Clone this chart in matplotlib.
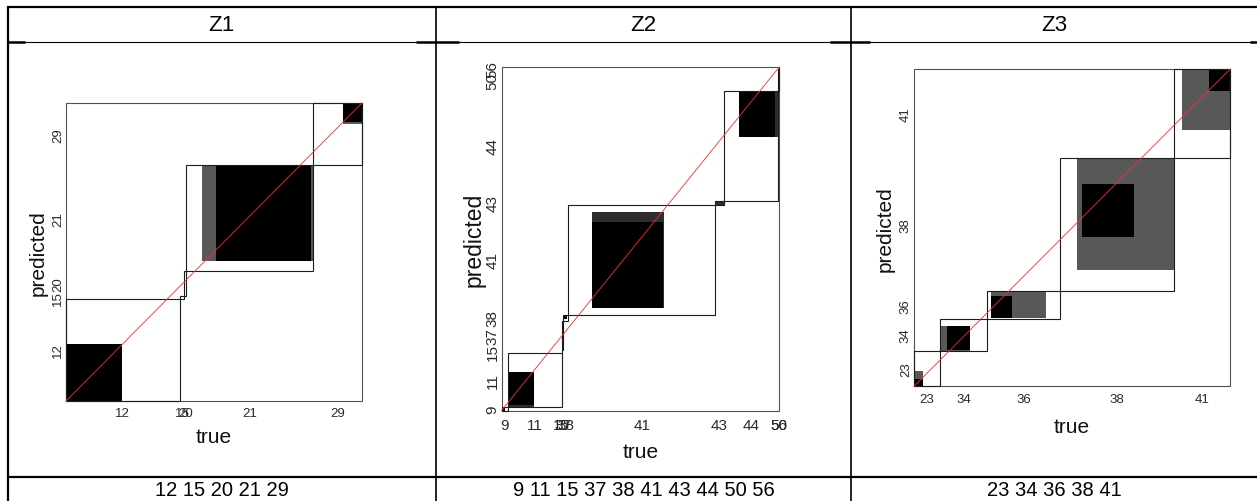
import matplotlib
matplotlib.use("Agg")
import matplotlib.pyplot as plt
from matplotlib.patches import Rectangle
from matplotlib.lines import Line2D
import numpy as np

plt.rcParams["font.family"] = ["Liberation Sans", "DejaVu Sans"]

# ---- data: class labels, share of true (column width) and predicted (row height) ----
z1_classes = ["12", "15", "20", "21", "29"]
z1_true_share = [0.384, 0.016, 0.007, 0.428, 0.165]
z1_pred_share = [0.343, 0.009, 0.084, 0.355, 0.209]
# inner blocks per diagonal cell, as fractions of the cell: (x0, x1, y0, y1)
z1_gray = {"21": (0.126, 1.0, 0.091, 1.0), "29": (0.612, 1.0, 0.663, 1.0)}
z1_dark = {}
z1_black = {"12": (0.0, 0.493, 0.0, 0.559),
            "21": (0.237, 0.982, 0.091, 1.0),
            "29": (0.612, 1.0, 0.695, 1.0)}

z2_classes = ["9", "11", "15", "37", "38", "41", "43", "44", "50", "56"]
z2_true_share = [0.022, 0.195, 0.001, 0.003, 0.020, 0.528, 0.031, 0.198, 0.001, 0.001]
z2_pred_share = [0.010, 0.157, 0.011, 0.084, 0.018, 0.320, 0.012, 0.318, 0.064, 0.006]
z2_gray = {}
z2_dark = {"11": (0.0, 0.497, 0.0, 0.654),
           "41": (0.161, 0.650, 0.061, 0.930),
           "43": (0.0, 1.0, 0.0, 1.0),
           "44": (0.279, 1.0, 0.579, 1.0)}
z2_black = {"9": (0.0, 0.61, 0.0, 1.0),
            "11": (0.0, 0.497, 0.049, 0.654),
            "38": (0.18, 0.82, 0.33, 0.89),
            "41": (0.161, 0.643, 0.061, 0.845),
            "44": (0.279, 0.933, 0.579, 1.0)}

z3_classes = ["23", "34", "36", "38", "41"]
z3_true_share = [0.082, 0.150, 0.230, 0.361, 0.177]
z3_pred_share = [0.112, 0.099, 0.089, 0.420, 0.280]
z3_gray = {"23": (0.0, 0.333, 0.0, 0.420),
           "34": (0.0, 0.627, 0.0, 0.787),
           "36": (0.046, 0.807, 0.059, 0.976),
           "38": (0.152, 1.0, 0.155, 1.0),
           "41": (0.143, 1.0, 0.315, 1.0)}
z3_dark = {}
z3_black = {"23": (0.0, 0.333, 0.0, 0.206),
            "34": (0.141, 0.627, 0.032, 0.787),
            "36": (0.046, 0.335, 0.059, 0.812),
            "38": (0.19, 0.65, 0.409, 0.80),
            "41": (0.619, 1.0, 0.757, 1.0)}

titles = ["Z1", "Z2", "Z3"]

# ---- figure / layout helpers (pixel coordinates, origin top-left) ----
W, H = 1257, 502
fig = plt.figure(figsize=(W / 100, H / 100), dpi=100)
fig.patch.set_facecolor("white")


def fx(x):
    return x / W


def fy(y):
    return 1 - y / H


def seg(x0, y0, x1, y1, lw, color="black"):
    fig.add_artist(Line2D([fx(x0), fx(x1)], [fy(y0), fy(y1)], lw=lw,
                          color=color, solid_capstyle="butt"))


# table grid
seg(7, 7.5, W, 7.5, 1.6)
seg(7.5, 7, 7.5, H, 1.6)
seg(7, 42.5, W, 42.5, 0.8)
seg(7, 477.5, W, 477.5, 1.6)
seg(436, 7, 436, H, 1.2)
seg(851, 7, 851, H, 1.2)
for a, b in [(7, 25), (416, 459), (830, 870), (1250, W)]:
    seg(a, 43, b, 43, 1.8)

col_centers = [221.5, 643.5, 1054]


def draw_panel(box, classes, tw, ph, gray, dark, black, tick_fs, xpad, ypad,
               xlab_dy, ylab_dx, ylab_fs):
    l, t, r, b = box
    ax = fig.add_axes([fx(l), fy(b), fx(r) - fx(l), fy(t) - fy(b)])
    ax.set_xlim(0, 1)
    ax.set_ylim(0, 1)
    ax.set_facecolor("none")
    for s in ax.spines.values():
        s.set_visible(False)

    cx = np.concatenate([[0.0], np.cumsum(tw)])
    cy = np.concatenate([[0.0], np.cumsum(ph)])

    for color, table in (("#585858", gray), ("#2e2e2e", dark), ("#000000", black)):
        for cls, (a0, a1, b0, b1) in table.items():
            i = classes.index(cls)
            w = cx[i + 1] - cx[i]
            h = cy[i + 1] - cy[i]
            ax.add_patch(Rectangle((cx[i] + a0 * w, cy[i] + b0 * h),
                                   (a1 - a0) * w, (b1 - b0) * h,
                                   fc=color, ec="none", lw=0, clip_on=False))

    ax.add_patch(Rectangle((0, 0), 1, 1, fill=False, ec="#505050", lw=0.8,
                           clip_on=False))
    for i in range(len(classes)):
        ax.add_patch(Rectangle((cx[i], cy[i]), cx[i + 1] - cx[i],
                               cy[i + 1] - cy[i], fill=False, ec="#1c1c1c",
                               lw=0.8, clip_on=False))
    ax.plot([0, 1], [0, 1], color="#ff2a2a", lw=0.6, clip_on=False)

    mx = (cx[:-1] + cx[1:]) / 2
    my = (cy[:-1] + cy[1:]) / 2
    ax.set_xticks(mx, classes)
    ax.set_yticks(my, classes)
    ax.tick_params(length=0, labelsize=tick_fs, labelcolor="#2a2a2a")
    ax.tick_params(axis="x", pad=xpad)
    ax.tick_params(axis="y", pad=ypad, labelrotation=90)
    for lab in ax.get_yticklabels():
        lab.set_va("center")

    xc = (l + r) / 2
    yc = (t + b) / 2
    fig.text(fx(xc), fy(b + xlab_dy), "true", ha="center", va="center",
             fontsize=15, color="#111111")
    fig.text(fx(l - ylab_dx), fy(yc), "predicted", ha="center", va="center",
             rotation=90, fontsize=ylab_fs, color="#111111")


panels = [
    dict(box=(66, 104, 362, 402), classes=z1_classes, tw=z1_true_share,
         ph=z1_pred_share, gray=z1_gray, dark=z1_dark, black=z1_black,
         tick_fs=9.5, xpad=4.5, ypad=1.5, xlab_dy=36, ylab_dx=28, ylab_fs=15),
    dict(box=(501.5, 68.3, 779, 411.7), classes=z2_classes, tw=z2_true_share,
         ph=z2_pred_share, gray=z2_gray, dark=z2_dark, black=z2_black,
         tick_fs=11, xpad=5.0, ypad=1.5, xlab_dy=41, ylab_dx=27, ylab_fs=16.5),
    dict(box=(914, 70, 1230.3, 387.3), classes=z3_classes, tw=z3_true_share,
         ph=z3_pred_share, gray=z3_gray, dark=z3_dark, black=z3_black,
         tick_fs=9.5, xpad=5.0, ypad=1.5, xlab_dy=40, ylab_dx=29, ylab_fs=15),
]

for title, cxp, p in zip(titles, col_centers, panels):
    fig.text(fx(cxp), fy(25.5), title, ha="center", va="center", fontsize=16)
    fig.text(fx(cxp), fy(490.5), " ".join(p["classes"]), ha="center",
             va="center", fontsize=14.5)
    draw_panel(**p)

fig.savefig("out.png", dpi=100, facecolor="white")
